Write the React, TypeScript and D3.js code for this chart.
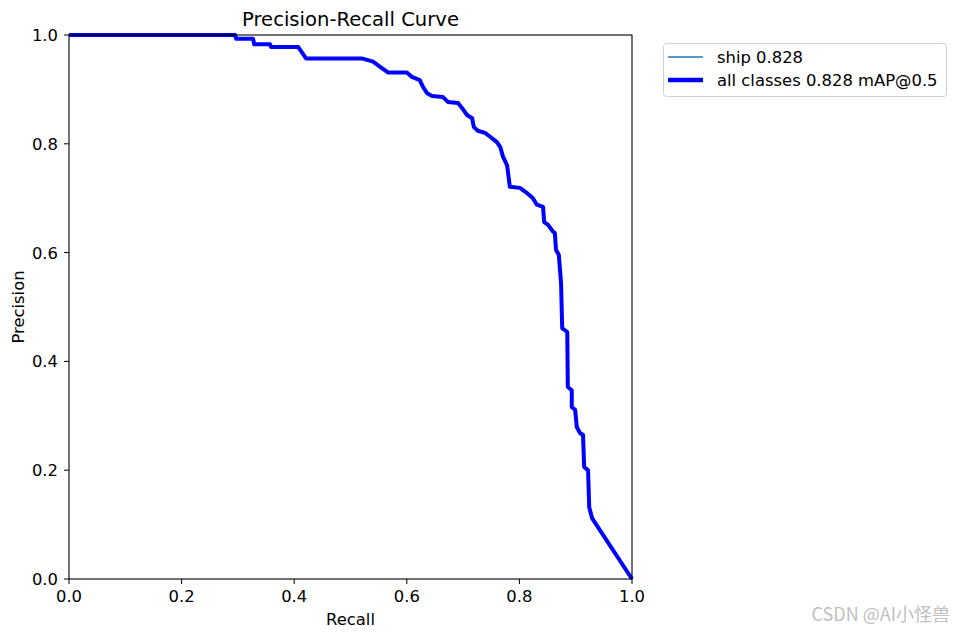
import React from "react";
import * as d3 from "d3";

const recall = [0, 0.295, 0.297, 0.327, 0.329, 0.357, 0.359, 0.407, 0.421, 0.52, 0.54, 0.552, 0.567, 0.6, 0.609, 0.623, 0.629, 0.636, 0.645, 0.664, 0.673, 0.691, 0.698, 0.707, 0.716, 0.719, 0.726, 0.739, 0.748, 0.76, 0.766, 0.771, 0.778, 0.78, 0.783, 0.801, 0.813, 0.824, 0.831, 0.842, 0.844, 0.851, 0.86, 0.863, 0.865, 0.87, 0.874, 0.876, 0.885, 0.886, 0.893, 0.893, 0.899, 0.902, 0.908, 0.913, 0.915, 0.922, 0.924, 0.929, 1.0];
const precision = [1, 1, 0.993, 0.993, 0.983, 0.983, 0.978, 0.978, 0.957, 0.957, 0.951, 0.942, 0.931, 0.931, 0.923, 0.917, 0.904, 0.893, 0.888, 0.886, 0.877, 0.875, 0.866, 0.853, 0.847, 0.831, 0.824, 0.82, 0.813, 0.803, 0.794, 0.776, 0.761, 0.746, 0.721, 0.719, 0.71, 0.7, 0.688, 0.684, 0.656, 0.651, 0.638, 0.636, 0.605, 0.596, 0.544, 0.461, 0.454, 0.353, 0.347, 0.316, 0.311, 0.279, 0.268, 0.265, 0.206, 0.2, 0.132, 0.112, 0.0];
const ticks = [0, 0.2, 0.4, 0.6, 0.8, 1.0];
const legendLabels = ["ship 0.828", "all classes 0.828 mAP@0.5"];

const W = 955, H = 632;
const L = 69, R = 632, T = 35, B = 579;
const font = "DejaVu Sans, sans-serif";
const fs = 16.4;

export default function App() {
  const x = d3.scaleLinear().domain([0, 1]).range([L, R]);
  const y = d3.scaleLinear().domain([0, 1]).range([B, T]);
  const pts: [number, number][] = recall.map((r, i) => [r, precision[i]]);
  const line = d3.line<[number, number]>().x(d => x(d[0])).y(d => y(d[1]));
  const path = line(pts) || "";
  return (
    <svg width={W} height={H} style={{ position: "absolute", left: 0, top: 0 }} fontFamily={font}>
      <rect width={W} height={H} fill="#fff" />
      <clipPath id="clip"><rect x={L} y={T - 2} width={R - L + 2} height={B - T + 4} /></clipPath>
      <g clipPath="url(#clip)">
        <path d={path} fill="none" stroke="#1f77b4" strokeWidth={1} />
        <path d={path} fill="none" stroke="#0000ff" strokeWidth={4} strokeLinejoin="round" />
      </g>
      <rect x={L} y={T} width={R - L} height={B - T} fill="none" stroke="#000" strokeWidth={1.1} />
      {ticks.map(t => (
        <g key={"x" + t}>
          <line x1={x(t)} x2={x(t)} y1={B} y2={B + 5} stroke="#000" />
          <text x={x(t)} y={B + 23} textAnchor="middle" fontSize={fs}>{t.toFixed(1)}</text>
        </g>
      ))}
      {ticks.map(t => (
        <g key={"y" + t}>
          <line x1={L - 5} x2={L} y1={y(t)} y2={y(t)} stroke="#000" />
          <text x={L - 11} y={y(t)} dy="0.36em" textAnchor="end" fontSize={fs}>{t.toFixed(1)}</text>
        </g>
      ))}
      <text x={(L + R) / 2} y={26} textAnchor="middle" fontSize={19.6}>Precision-Recall Curve</text>
      <text x={(L + R) / 2} y={625} textAnchor="middle" fontSize={fs}>Recall</text>
      <text transform={`translate(24,${(T + B) / 2}) rotate(-90)`} textAnchor="middle" fontSize={fs}>Precision</text>
      <rect x={663.5} y={43.5} width={283} height={53} rx={3} fill="#fff" stroke="#d0d0d0" />
      <line x1={668} x2={703} y1={57} y2={57} stroke="#1f77b4" strokeWidth={1.5} />
      <line x1={668} x2={703} y1={80} y2={80} stroke="#0000ff" strokeWidth={4.5} />
      <text x={717} y={57} dy="0.36em" fontSize={fs}>{legendLabels[0]}</text>
      <text x={717} y={80} dy="0.36em" fontSize={fs}>{legendLabels[1]}</text>
      <text x={950} y={621} textAnchor="end" fontSize={18} fill="#c0c0c0" fontFamily="Noto Sans CJK SC, sans-serif">CSDN @AI小怪兽</text>
    </svg>
  );
}
